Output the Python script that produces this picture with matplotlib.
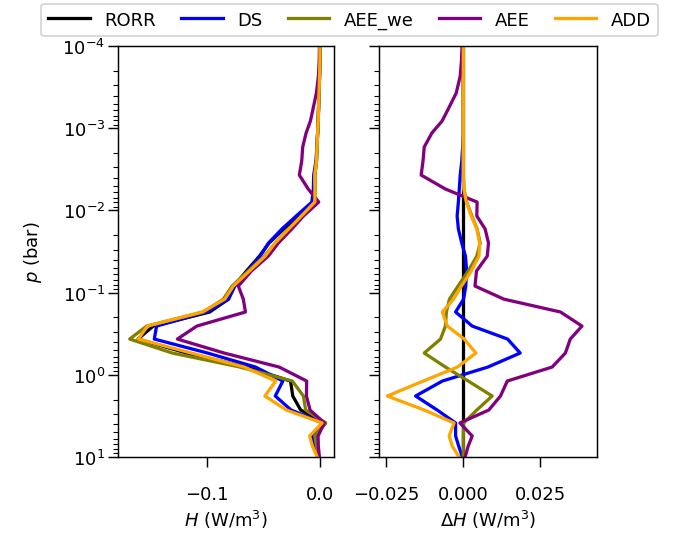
#!/usr/bin/env python3
"""
Heating-rate profiles H(p) and differences relative to RORR.
"""

import numpy as np
import matplotlib
matplotlib.use("Agg")
import matplotlib.pyplot as plt

# pressure levels (bar)
p_bar = [1.0e-4, 1.52e-4, 2.32e-4, 3.73e-4, 5.84e-4, 8.17e-4, 1.14e-3, 1.69e-3,
         2.51e-3, 3.71e-3, 5.49e-3, 7.91e-3, 1.17e-2, 1.68e-2, 2.49e-2, 3.59e-2,
         5.46e-2, 8.31e-2, 0.120, 0.172, 0.255, 0.367, 0.543, 0.804, 1.19, 1.81,
         2.68, 3.85, 5.55, 7.35, 10.0]

# reference heating rate (W/m^3)
H_rorr = [0.0, 0.0, -0.0003, -0.0008, -0.0012, -0.0015, -0.002, -0.0025,
          -0.003, -0.0045, -0.0045, -0.0055, -0.019, -0.032, -0.045, -0.0535,
          -0.065, -0.076, -0.081, -0.0975, -0.1475, -0.161, -0.118, -0.065,
          -0.026, -0.024, -0.017, 0.005, -0.0045, -0.003, -0.001]

# differences to RORR (W/m^3)
dH_ds = [0.0, 0.0, 0.0, 0.0, 0.0, 0.0, 0.0, -0.0002, -0.0005, -0.001, -0.0013,
         -0.0016, -0.002, -0.0016, -0.0005, 0.0007, 0.0011, 0.0008, 0.0001,
         -0.0025, 0.0029, 0.0144, 0.0185, 0.008, -0.0068, -0.0155, -0.0085,
         -0.0025, -0.0025, -0.0015, -0.0003]
dH_aee_we = [0.0, 0.0, 0.0, 0.0, 0.0, 0.0, 0.0, 0.0, 0.0, 0.0, 0.0002, 0.0011,
             0.0028, 0.0045, 0.0055, 0.0044, 0.0016, -0.0017, -0.0045, -0.0055,
             -0.0058, -0.0074, -0.0127, -0.0058, 0.0016, 0.0094, 0.0044, 0.0001,
             0.0, 0.0, 0.0]
dH_aee = [-0.0004, -0.0006, -0.001, -0.0023, -0.0049, -0.0069, -0.0102, -0.0127,
          -0.0131, -0.0137, -0.0058, 0.0045, 0.0044, 0.0071, 0.0082, 0.0078,
          0.0043, 0.0038, 0.0132, 0.0316, 0.0386, 0.0348, 0.0332, 0.0289,
          0.0143, 0.0121, 0.0083, -0.0011, 0.0029, 0.0016, 0.0006]
dH_add = [0.0, 0.0, 0.0, 0.0, 0.0, 0.0, 0.0, 0.0, 0.0, 0.0, 0.0002, 0.001,
          0.0026, 0.0044, 0.0053, 0.0051, 0.0026, -0.0006, -0.0032, -0.0068,
          -0.0052, 0.0003, 0.0041, -0.0019, -0.013, -0.0247, -0.0127, -0.003,
          -0.0046, -0.0036, -0.0014]

labels = ["RORR", "DS", "AEE_we", "AEE", "ADD"]
colors = ["black", "blue", "olive", "purple", "orange"]


def main():
    p = np.array(p_bar)
    h0 = np.array(H_rorr)
    diffs = [np.zeros_like(h0), np.array(dH_ds), np.array(dH_aee_we),
             np.array(dH_aee), np.array(dH_add)]

    fig = plt.figure(figsize=(5.2, 4.115), dpi=130)
    ax1 = fig.add_axes([0.1746, 0.1439, 0.3195, 0.7682])
    ax2 = fig.add_axes([0.5607, 0.1439, 0.3225, 0.7682], sharey=ax1)

    for lab, col, d in zip(labels, colors, diffs):
        ax1.plot(h0 + d, p, color=col, label=lab, lw=1.8)
        ax2.plot(d, p, color=col, label=lab, lw=1.8)

    ax1.set_yscale("log")
    ax1.set_ylim(10, 1e-4)
    ax1.set_xlim(-0.1787, 0.0125)
    ax2.set_xlim(-0.0274, 0.0435)
    ax1.set_xticks([-0.1, 0.0])
    ax2.set_xticks([-0.025, 0.0, 0.025])
    ax2.tick_params(labelleft=False)

    for ax in (ax1, ax2):
        ax.tick_params(which="major", length=5.5)
        ax.tick_params(which="minor", length=3)
        ax.tick_params(axis="x", pad=10)
        ax.tick_params(axis="y", pad=1.5)

    ax1.set_ylabel("$p$ (bar)", labelpad=10)
    ax1.set_xlabel("$H$ (W/m$^3$)", labelpad=3)
    ax2.set_xlabel(r"$\Delta H$ (W/m$^3$)", labelpad=3)

    handles, labs = ax1.get_legend_handles_labels()
    fig.legend(handles, labs, loc="upper center", ncol=5,
               bbox_to_anchor=(0.517, 1.0), borderaxespad=0.25,
               columnspacing=1.4, handlelength=2.3)

    fig.savefig("out.png", dpi=130)


if __name__ == "__main__":
    main()
